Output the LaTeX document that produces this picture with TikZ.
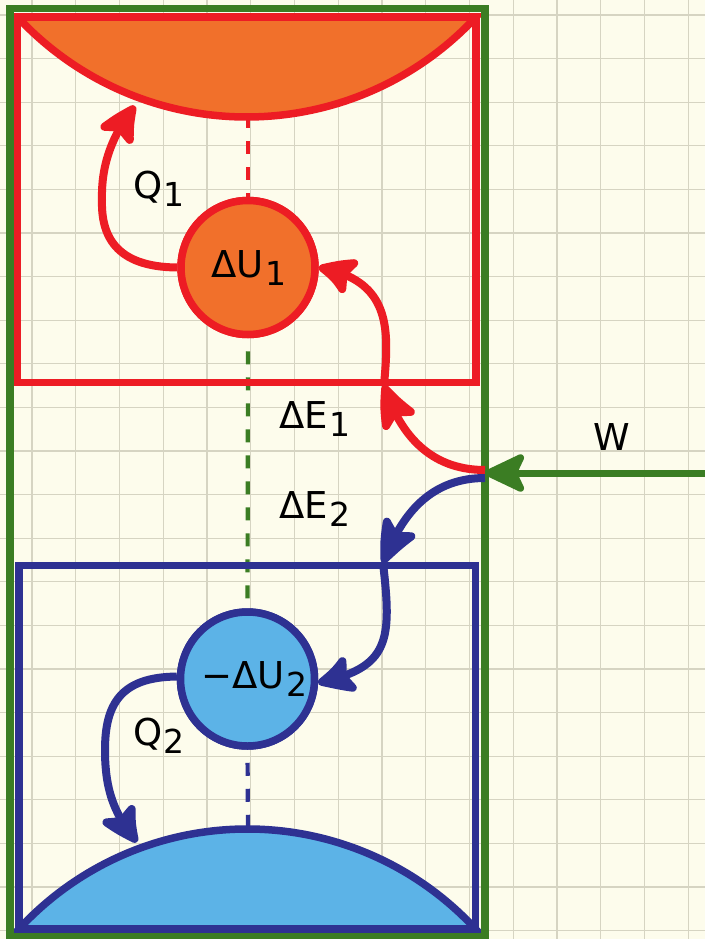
\documentclass[tikz,border=0pt]{standalone}
\usepackage{fontspec}
\setmainfont{DejaVu Sans}
\usetikzlibrary{arrows.meta,bending}
\definecolor{bg}{HTML}{FDFCEC}
\definecolor{gridc}{HTML}{D6D4C2}
\definecolor{grn}{HTML}{3B7D23}
\definecolor{rd}{HTML}{ED1C24}
\definecolor{org}{HTML}{F1702B}
\definecolor{dblue}{HTML}{2E3192}
\definecolor{lblue}{HTML}{5CB3E7}
\newcommand{\lbl}[2]{#1\kern1.5pt\raisebox{-8pt}{\fontsize{33}{33}\selectfont #2}}
\tikzset{
  head/.style={-{Stealth[length=47pt,width=44pt,inset=10pt,round,bend]}},
  rarr/.style={draw=rd,line width=8pt,head},
  barr/.style={draw=dblue,line width=8pt,head},
  garr/.style={draw=grn,line width=7pt,head},
  box/.style={line width=7.5pt},
  seg/.style={line width=7.5pt},
  ball/.style={circle,line width=7.5pt,minimum size=134pt,inner sep=0pt},
  dsh/.style={line width=4.2pt,dash pattern=on 13pt off 13pt},
  lab/.style={inner sep=0pt,anchor=base west,font=\fontsize{37}{40}\selectfont}
}
\begin{document}
\begin{tikzpicture}[x=1pt,y=-1pt]
\fill[bg] (0,0) rectangle (705,939);
\useasboundingbox (0,0) rectangle (705,939);
% grid
\foreach \i in {0,...,15} \draw[gridc,line width=1.3pt] ({32+43.75*\i},0) -- ({32+43.75*\i},939);
\foreach \j in {0,...,21} \draw[gridc,line width=1.3pt] (0,{15+43.6*\j}) -- (705,{15+43.6*\j});
% reservoirs
\filldraw[fill=org,draw=rd,seg] (17.5,17) arc[start angle=137.13,end angle=42.87,radius=312.8] -- cycle;
\filldraw[fill=lblue,draw=dblue,seg] (19,929) arc[start angle=222.68,end angle=317.32,radius=310.5] -- cycle;
% circles (nodes)
\node[ball,draw=rd,fill=org] (u1) at (248,267.5) {};
\node[ball,draw=dblue,fill=lblue] (u2) at (247.5,679) {};
\coordinate (topmid) at (248,119);
\coordinate (botmid) at (248,828);
% dashed lines
\draw[rd,dsh,dash phase=4pt] (topmid) -- (u1.north);
\draw[grn,dsh,dash phase=13pt] (u1.south) -- (u2.north);
\draw[dblue,dsh,dash phase=13pt] (u2.south) -- (botmid);
% boxes
\draw[rd,box] (17.5,17) rectangle (476,382.5);
\draw[dblue,box] (19,565.5) rectangle (475.5,929);
\draw[grn,box] (10,8.5) rectangle (485,936.5);
\node[ball,draw=rd,fill=org] at (u1) {};
\node[ball,draw=dblue,fill=lblue] at (u2) {};
% coordinates
\coordinate (e1s) at (485,470);
\coordinate (e2s) at (485,478);
\coordinate (m1) at (384,385);
\coordinate (m2) at (383,563);
\coordinate (q1e) at (135,106);
\coordinate (q2e) at (137,842);
\coordinate (wst) at (705,473);
\coordinate (wend) at (485,473);
% energy flows
\draw[rarr] (e1s) .. controls (420,470) and (395,420) .. (m1);
\draw[rarr] (m1) .. controls (389,330) and (392,280) .. (u1.east);
\draw[barr] (e2s) .. controls (420,478) and (396,530) .. (m2);
\draw[barr] (m2) .. controls (392,640) and (390,668) .. (u2.-3);
\draw[rarr] (u1.west) .. controls (115,267) and (101,235) .. (102,200) .. controls (101,165) and (112,135) .. (q1e);
\draw[barr] (u2.178) .. controls (120,677) and (105,705) .. (105,750) .. controls (105,790) and (114,814) .. (q2e);
\draw[garr] (wst) -- (wend);
% labels
\node[lab] (lq1) at (133,198) {\lbl{Q}{1}};
\node[lab] (lu1) at (211,277) {\lbl{ΔU}{1}};
\node[lab] (le1) at (279,428) {\lbl{ΔE}{1}};
\node[lab] (le2) at (279,518.5) {\lbl{ΔE}{2}};
\node[lab] (lw) at (593,450) {W};
\node[lab] (lu2) at (201,688.5) {\lbl{−ΔU}{2}};
\node[lab] (lq2) at (133,745) {\lbl{Q}{2}};
\end{tikzpicture}
\end{document}
